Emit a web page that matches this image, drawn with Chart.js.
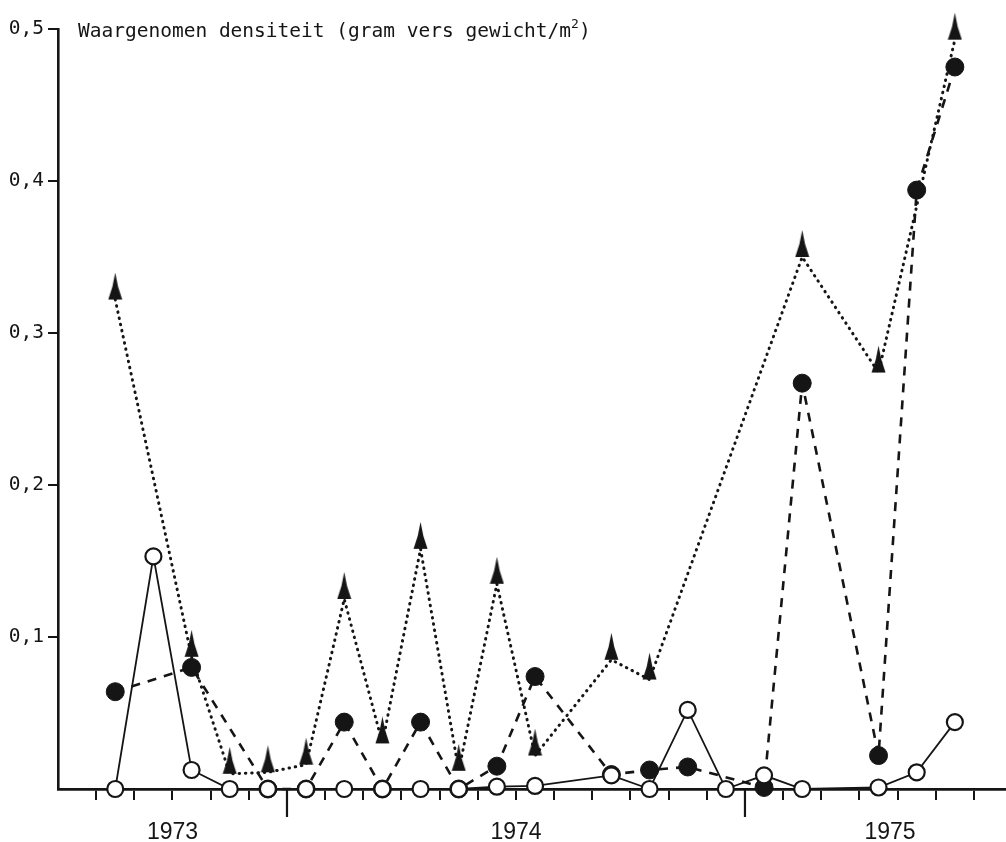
<!DOCTYPE html>
<html>
<head>
<meta charset="utf-8">
<script src="https://cdn.jsdelivr.net/npm/chart.js@4"></script>
<style>
  body { margin: 0; background: #fff; }
</style>
</head>
<body>
<canvas id="densityChart" width="1006" height="842"></canvas>
<script>
// months counted from July 1973 (0 = start of July 1973), samples sit mid-month
const sampleMonths = [1, 2, 3, 4, 5, 6, 7, 8, 9, 10, 11, 12, 13, 14, 15, 16, 17, 18, 19, 20, 21, 22, 23];

// open circles, solid line
const openValues = [0, 0.153, 0.0125, 0, 0, 0, 0, 0, 0, 0, 0.0015, 0.002, null, 0.009, 0, 0.052, 0, 0.009, 0, null, 0.001, 0.011, 0.044];
// filled circles, dashed line
const filledValues = [0.064, null, 0.080, null, 0, 0, 0.044, 0, 0.044, 0, 0.015, 0.074, null, 0.0095, 0.0125, 0.0145, null, 0.001, 0.267, null, 0.022, 0.394, 0.475];
// triangles, dotted line
const triangleValues = [0.322, null, 0.087, 0.010, 0.011, 0.016, 0.125, 0.030, 0.158, 0.012, 0.135, 0.022, null, 0.085, 0.072, null, null, null, 0.35, null, 0.274, null, 0.493];

const yearLabels = ['1973', '1974', '1975'];
const yearLabelPos = [3, 12.05, 21.8];
const yearBreaks = [6, 18];
const yTicks = [0, 0.1, 0.2, 0.3, 0.4, 0.5];

const title = 'Waargenomen densiteit (gram vers gewicht/m';
const ink = '#151515';
const monoFont = '"DejaVu Sans Mono", monospace';

function toPoints(values) {
  return sampleMonths.map((m, i) => ({ x: m + 0.5, y: values[i] }));
}

function makeArrowhead() {
  // tall narrow triangle, base sits on the data point
  const c = document.createElement('canvas');
  c.width = 15;
  c.height = 54;
  const g = c.getContext('2d');
  g.fillStyle = ink;
  g.beginPath();
  g.moveTo(7.5, 0);
  g.quadraticCurveTo(9.5, 14, 14.5, 27);
  g.lineTo(0.5, 27);
  g.quadraticCurveTo(5.5, 14, 7.5, 0);
  g.closePath();
  g.fill();
  return c;
}

const extras = {
  id: 'extras',
  afterDraw(chart) {
    const { ctx, chartArea, scales } = chart;
    ctx.save();
    ctx.strokeStyle = ink;
    ctx.lineWidth = 2.2;
    yearBreaks.forEach(v => {
      const x = scales.x.getPixelForValue(v);
      ctx.beginPath();
      ctx.moveTo(x, chartArea.bottom);
      ctx.lineTo(x, chartArea.bottom + 28);
      ctx.stroke();
    });

    const tx = chartArea.left + 20;
    const ty = scales.y.getPixelForValue(0.5) + 8;
    ctx.fillStyle = ink;
    ctx.textBaseline = 'alphabetic';
    ctx.font = '19.5px ' + monoFont;
    ctx.fillText(title, tx, ty);
    let w = ctx.measureText(title).width;
    ctx.font = '13px ' + monoFont;
    ctx.fillText('2', tx + w, ty - 9);
    w += ctx.measureText('2').width;
    ctx.font = '19.5px ' + monoFont;
    ctx.fillText(')', tx + w, ty);
    ctx.restore();
  }
};

new Chart(document.getElementById('densityChart'), {
  type: 'line',
  data: {
    datasets: [
      {
        data: toPoints(openValues),
        borderColor: ink,
        borderWidth: 1.8,
        pointStyle: 'circle',
        pointRadius: 8,
        pointBorderWidth: 2.2,
        pointBackgroundColor: '#fff',
        pointBorderColor: ink,
        spanGaps: true,
        clip: false
      },
      {
        data: toPoints(filledValues),
        borderColor: ink,
        borderWidth: 2.6,
        borderDash: [9, 8],
        pointStyle: 'circle',
        pointRadius: 9,
        pointBorderWidth: 1,
        pointBackgroundColor: ink,
        pointBorderColor: ink,
        spanGaps: true,
        clip: false
      },
      {
        data: toPoints(triangleValues),
        borderColor: ink,
        borderWidth: 3,
        borderDash: [0.5, 5.8],
        borderCapStyle: 'round',
        pointStyle: makeArrowhead(),
        pointRadius: 10,
        spanGaps: true,
        clip: false
      }
    ]
  },
  options: {
    responsive: false,
    animation: false,
    events: [],
    layout: { autoPadding: false, padding: { top: 29, left: 0, right: 0, bottom: 0 } },
    plugins: { legend: { display: false }, tooltip: { enabled: false } },
    scales: {
      x: {
        type: 'linear',
        min: 0,
        max: 24.84,
        afterBuildTicks: axis => {
          const vals = [];
          for (let k = 1; k <= 24; k++) vals.push(k);
          vals.push(yearLabelPos[2]);
          axis.ticks = vals.map(v => ({ value: v }));
        },
        afterFit: s => { s.height = 53; },
        ticks: {
          autoSkip: false,
          maxRotation: 0,
          padding: 19,
          color: ink,
          font: { family: '"Liberation Sans", Arial, sans-serif', size: 23 },
          callback: v => {
            const i = yearLabelPos.findIndex(p => Math.abs(p - v) < 0.1);
            return i >= 0 ? yearLabels[i] : '';
          }
        },
        grid: {
          drawOnChartArea: false,
          tickLength: 11,
          lineWidth: 2,
          tickColor: c => (c.tick && Number.isInteger(c.tick.value)) ? ink : 'rgba(0,0,0,0)'
        },
        border: { color: ink, width: 2.8 }
      },
      y: {
        min: 0,
        max: 0.5,
        afterBuildTicks: axis => { axis.ticks = yTicks.map(v => ({ value: v })); },
        afterFit: s => { s.width = 58; },
        ticks: {
          padding: 4,
          color: ink,
          font: { family: monoFont, size: 19.5 },
          callback: v => v === 0 ? '' : v.toFixed(1).replace('.', ',')
        },
        grid: {
          drawOnChartArea: false,
          tickLength: 10,
          lineWidth: 2,
          tickColor: c => (c.tick && c.tick.value === 0) ? 'rgba(0,0,0,0)' : ink
        },
        border: { color: ink, width: 2.6 }
      }
    }
  },
  plugins: [extras]
});
</script>
</body>
</html>
